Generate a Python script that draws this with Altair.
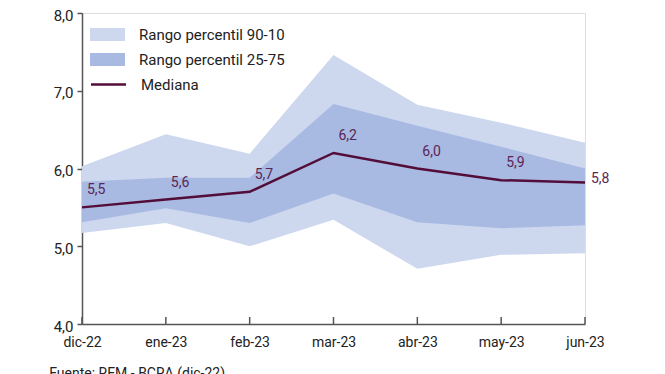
import altair as alt
import pandas as pd

months = ["dic-22", "ene-23", "feb-23", "mar-23", "abr-23", "may-23", "jun-23"]
p10 = [5.17, 5.30, 5.00, 5.34, 4.71, 4.89, 4.91]
p25 = [5.31, 5.49, 5.30, 5.68, 5.31, 5.23, 5.27]
median = [5.50, 5.60, 5.70, 6.20, 6.00, 5.85, 5.82]
p75 = [5.83, 5.88, 5.88, 6.83, 6.55, 6.28, 6.00]
p90 = [6.03, 6.44, 6.19, 7.46, 6.82, 6.59, 6.33]
value_labels = ["5,5", "5,6", "5,7", "6,2", "6,0", "5,9", "5,8"]

band_names = ["Rango percentil 90-10", "Rango percentil 25-75"]
band_colors = ["#cdd8ef", "#a8b9e2"]
line_color = "#520d38"
label_color = "#5c2456"
axis_color = "#555555"
text_color = "#222222"

outer = pd.DataFrame({"month": months, "lo": p10, "hi": p90, "band": band_names[0]})
inner = pd.DataFrame({"month": months, "lo": p25, "hi": p75, "band": band_names[1]})
med = pd.DataFrame({"month": months, "value": median, "label": value_labels, "serie": "Mediana"})

xenc = alt.X("month:O", sort=months, scale=alt.Scale(type="point", padding=0),
             axis=alt.Axis(title=None, labelAngle=0, tickSize=0, labelPadding=11,
                           labelFontSize=14, labelColor=text_color, labelFont="Roboto",
                           domainColor=axis_color, domainWidth=1.5))
yscale = alt.Scale(domain=[4, 8], nice=False, zero=False)
yaxis = alt.Axis(title=None, values=[4, 5, 6, 7, 8], grid=False, tickSize=5,
                 tickColor=axis_color, tickWidth=1.5, domainColor=axis_color, domainWidth=1.5,
                 labelFontSize=15, labelColor=text_color, labelFont="Roboto", labelPadding=4,
                 labelOffset=2,
                 labelExpr="replace(format(datum.value, '.1f'), '.', ',')")

fill_scale = alt.Scale(domain=band_names, range=band_colors)
fill_legend = alt.Legend(title=None, orient="none", legendX=18, legendY=14,
                         symbolType="M-2.5,-0.93H2.5V0.93H-2.5Z", symbolSize=196,
                         symbolStrokeWidth=0, symbolOpacity=1,
                         labelFontSize=15, labelFont="Roboto", labelColor=text_color,
                         labelOffset=24, rowPadding=9, padding=0)

area_outer = alt.Chart(outer).mark_area(opacity=1).encode(
    x=xenc, y=alt.Y("lo:Q", scale=yscale, axis=yaxis), y2="hi:Q",
    fill=alt.Fill("band:N", scale=fill_scale, legend=fill_legend))
area_inner = alt.Chart(inner).mark_area(opacity=1).encode(
    x=xenc, y=alt.Y("lo:Q", scale=yscale, axis=yaxis), y2="hi:Q",
    fill=alt.Fill("band:N", scale=fill_scale, legend=fill_legend))

line = alt.Chart(med).mark_line(strokeWidth=2.5).encode(
    x=xenc, y=alt.Y("value:Q", scale=yscale, axis=yaxis),
    stroke=alt.Stroke("serie:N", scale=alt.Scale(domain=["Mediana"], range=[line_color]),
                      legend=alt.Legend(title=None, orient="none", legendX=18, legendY=63,
                                        symbolType="M-2.5,0H2.5", symbolSize=196,
                                        symbolStrokeWidth=2.5, labelFontSize=15,
                                        labelFont="Roboto", labelColor=text_color,
                                        labelOffset=24, padding=0)))

labels_main = alt.Chart(med.iloc[:-1]).mark_text(
    align="left", baseline="middle", dx=5, dy=-17, fontSize=14, font="Roboto",
    color=label_color).encode(x=xenc, y=alt.Y("value:Q", scale=yscale, axis=yaxis), text="label:N")
labels_last = alt.Chart(med.iloc[-1:]).mark_text(
    align="left", baseline="middle", dx=6, dy=-3, fontSize=14, font="Roboto",
    color=label_color).encode(x=xenc, y=alt.Y("value:Q", scale=yscale, axis=yaxis), text="label:N")

ticks = alt.Chart(med).mark_rule(color=axis_color, strokeWidth=1.5).encode(
    x=xenc, y=alt.value(311), y2=alt.value(304))

chart = alt.layer(area_outer, area_inner, line, labels_main, labels_last, ticks).properties(
    width=503, height=311,
    title=alt.TitleParams("Fuente: REM - BCRA (dic-22)", orient="bottom", anchor="start",
                          dx=-4, offset=18, fontSize=14, font="Roboto", fontWeight="normal",
                          color=text_color),
    autosize=alt.AutoSizeParams(type="none"),
    padding={"left": 74, "top": 5, "right": 70, "bottom": 70},
).configure_view(stroke=None).configure(background="white")

chart.save("out.html", embed_options={"renderer": "svg", "actions": False})
